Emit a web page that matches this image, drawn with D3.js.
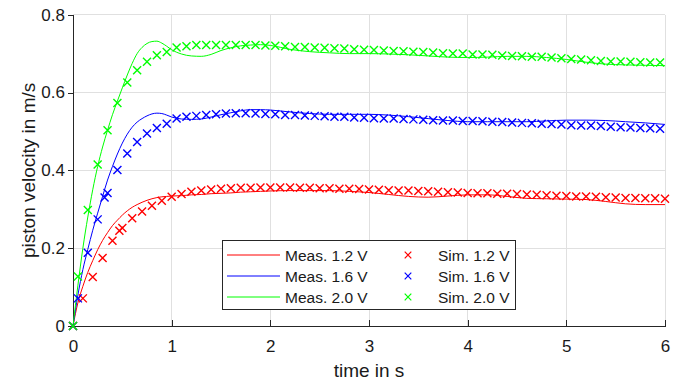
<!DOCTYPE html>
<html>
<head>
<meta charset="utf-8">
<script src="https://cdn.jsdelivr.net/npm/d3@7"></script>
<style>
  body { margin: 0; background: #fff; }
  svg { font-family: "Liberation Sans", Arial, sans-serif; }
</style>
</head>
<body>
<div class="displayArea"></div>
<script>
const width = 692, height = 382;

// measured curves (lines), common time grid
var measTime = [0, 0.05, 0.1, 0.15, 0.2, 0.25, 0.3, 0.35, 0.4, 0.45, 0.5, 0.55, 0.6, 0.65, 0.7, 0.75, 0.8, 0.85, 0.9, 0.95,
    1.0, 1.1, 1.2, 1.3, 1.4, 1.5, 1.6, 1.7, 1.8, 1.9, 2.0, 2.2, 2.4, 2.6, 2.8, 3.0, 3.2, 3.4, 3.6, 3.8,
    4.0, 4.2, 4.4, 4.6, 4.8, 5.0, 5.2, 5.4, 5.6, 5.8, 6.0];
var meas12 = [0, 0.06, 0.102, 0.138, 0.168, 0.196, 0.22, 0.24, 0.258, 0.272, 0.285, 0.296, 0.305, 0.312, 0.318, 0.323, 0.327, 0.33, 0.332, 0.333,
    0.334, 0.335, 0.337, 0.338, 0.34, 0.341, 0.342, 0.344, 0.345, 0.346, 0.347, 0.348, 0.348, 0.348, 0.346, 0.343, 0.338, 0.333, 0.331, 0.334,
    0.337, 0.337, 0.333, 0.328, 0.327, 0.326, 0.325, 0.32, 0.314, 0.312, 0.312];
var meas16 = [0, 0.08, 0.145, 0.197, 0.246, 0.29, 0.333, 0.375, 0.41, 0.442, 0.47, 0.493, 0.511, 0.524, 0.533, 0.54, 0.545, 0.547, 0.546, 0.542,
    0.537, 0.532, 0.531, 0.532, 0.537, 0.543, 0.548, 0.553, 0.556, 0.556, 0.555, 0.55, 0.546, 0.544, 0.544, 0.544, 0.542, 0.538, 0.533, 0.528,
    0.525, 0.525, 0.525, 0.525, 0.527, 0.529, 0.529, 0.528, 0.525, 0.522, 0.518];
var meas20 = [0, 0.105, 0.2, 0.28, 0.35, 0.41, 0.46, 0.503, 0.543, 0.578, 0.612, 0.645, 0.675, 0.7, 0.716, 0.726, 0.731, 0.732, 0.727, 0.719,
    0.71, 0.699, 0.694, 0.693, 0.698, 0.708, 0.715, 0.72, 0.722, 0.723, 0.721, 0.711, 0.705, 0.702, 0.7, 0.7, 0.699, 0.697, 0.694, 0.691,
    0.69, 0.691, 0.693, 0.693, 0.69, 0.685, 0.678, 0.673, 0.671, 0.67, 0.669];

// simulated points (markers)
var simTime12 = [0, 0.1, 0.2, 0.3, 0.4, 0.47, 0.5, 0.6, 0.7, 0.8, 0.9, 1.0, 1.1, 1.2, 1.3, 1.4, 1.5, 1.6, 1.7, 1.8, 1.9,
    2.0, 2.1, 2.2, 2.3, 2.4, 2.5, 2.6, 2.7, 2.8, 2.9, 3.0, 3.1, 3.2, 3.3, 3.4, 3.5, 3.6, 3.7, 3.8, 3.9,
    4.0, 4.1, 4.2, 4.3, 4.4, 4.5, 4.6, 4.7, 4.8, 4.9, 5.0, 5.1, 5.2, 5.3, 5.4, 5.5, 5.6, 5.7, 5.8, 5.9, 6.0];
var sim12 = [0, 0.071, 0.126, 0.175, 0.219, 0.245, 0.252, 0.277, 0.294, 0.309, 0.322, 0.332, 0.339, 0.345, 0.348, 0.351, 0.353, 0.354, 0.355, 0.355, 0.356,
    0.356, 0.356, 0.356, 0.355, 0.355, 0.354, 0.354, 0.353, 0.353, 0.352, 0.351, 0.35, 0.349, 0.348, 0.348, 0.347, 0.346, 0.345, 0.344, 0.343,
    0.342, 0.341, 0.341, 0.34, 0.34, 0.339, 0.338, 0.337, 0.336, 0.335, 0.334, 0.333, 0.333, 0.332, 0.331, 0.33, 0.329, 0.329, 0.328, 0.328, 0.327];

var simTime16 = [0, 0.05, 0.15, 0.25, 0.32, 0.35, 0.45, 0.55, 0.65, 0.75, 0.85, 0.95,
    1.05, 1.15, 1.25, 1.35, 1.45, 1.55, 1.65, 1.75, 1.85, 1.95, 2.05, 2.15, 2.25, 2.35, 2.45, 2.55, 2.65, 2.75, 2.85, 2.95,
    3.05, 3.15, 3.25, 3.35, 3.45, 3.55, 3.65, 3.75, 3.85, 3.95, 4.05, 4.15, 4.25, 4.35, 4.45, 4.55, 4.65, 4.75, 4.85, 4.95,
    5.05, 5.15, 5.25, 5.35, 5.45, 5.55, 5.65, 5.75, 5.85, 5.95];
var sim16 = [0, 0.071, 0.188, 0.274, 0.33, 0.342, 0.401, 0.443, 0.473, 0.495, 0.509, 0.52,
    0.533, 0.538, 0.54, 0.542, 0.544, 0.546, 0.547, 0.547, 0.546, 0.545, 0.544, 0.542, 0.542, 0.541, 0.54, 0.539, 0.538, 0.538, 0.536, 0.535,
    0.534, 0.533, 0.533, 0.532, 0.531, 0.53, 0.529, 0.528, 0.528, 0.527, 0.527, 0.526, 0.525, 0.524, 0.523, 0.522, 0.521, 0.52, 0.519, 0.518,
    0.516, 0.515, 0.515, 0.514, 0.512, 0.511, 0.51, 0.509, 0.508, 0.507];

var simTime20 = [0, 0.05, 0.15, 0.25, 0.35, 0.45, 0.55, 0.65, 0.75, 0.85, 0.95,
    1.05, 1.15, 1.25, 1.35, 1.45, 1.55, 1.65, 1.75, 1.85, 1.95, 2.05, 2.15, 2.25, 2.35, 2.45, 2.55, 2.65, 2.75, 2.85, 2.95,
    3.05, 3.15, 3.25, 3.35, 3.45, 3.55, 3.65, 3.75, 3.85, 3.95, 4.05, 4.15, 4.25, 4.35, 4.45, 4.55, 4.65, 4.75, 4.85, 4.95,
    5.05, 5.15, 5.25, 5.35, 5.45, 5.55, 5.65, 5.75, 5.85, 5.95];
var sim20 = [0, 0.127, 0.298, 0.415, 0.503, 0.573, 0.626, 0.657, 0.679, 0.696, 0.704,
    0.716, 0.719, 0.722, 0.722, 0.722, 0.722, 0.722, 0.722, 0.722, 0.721, 0.72, 0.719, 0.717, 0.717, 0.716, 0.715, 0.714, 0.713, 0.711, 0.71,
    0.709, 0.708, 0.707, 0.706, 0.705, 0.704, 0.703, 0.701, 0.7, 0.7, 0.698, 0.698, 0.697, 0.695, 0.694, 0.693, 0.692, 0.692, 0.69, 0.688,
    0.686, 0.685, 0.683, 0.681, 0.68, 0.68, 0.679, 0.678, 0.677, 0.677];

var xTicks = [0, 1, 2, 3, 4, 5, 6];
var yTicks = [0, 0.2, 0.4, 0.6, 0.8];

var measLabels = ["Meas. 1.2 V", "Meas. 1.6 V", "Meas. 2.0 V"];
var simLabels = ["Sim. 1.2 V", "Sim. 1.6 V", "Sim. 2.0 V"];
var colors = ["#ff0000", "#0000ff", "#00ff00"];

var measSeries = [meas12, meas16, meas20];
var simSeries = [[simTime12, sim12], [simTime16, sim16], [simTime20, sim20]];

var xScale = d3.scaleLinear().domain([0, 6]).range([73, 665]);
var yScale = d3.scaleLinear().domain([0, 0.8]).range([326, 14.7]);

var svg = d3.select(".displayArea")
    .append("svg")
    .attr("width", width)
    .attr("height", height);

// grid
svg.append("g").selectAll("line")
    .data(xTicks.slice(1))
    .enter().append("line")
    .attr("x1", d => xScale(d)).attr("x2", d => xScale(d))
    .attr("y1", yScale(0)).attr("y2", yScale(0.8))
    .attr("stroke", "#e0e0e0").attr("shape-rendering", "crispEdges");
svg.append("g").selectAll("line")
    .data(yTicks.slice(1))
    .enter().append("line")
    .attr("x1", xScale(0)).attr("x2", xScale(6))
    .attr("y1", d => yScale(d)).attr("y2", d => yScale(d))
    .attr("stroke", "#e0e0e0").attr("shape-rendering", "crispEdges");

// axes
var xAxis = d3.axisBottom(xScale).tickValues(xTicks).tickFormat(d3.format("d"))
    .tickSizeInner(-6).tickSizeOuter(0).tickPadding(14);
var yAxis = d3.axisLeft(yScale).tickValues(yTicks).tickFormat(d => d === 0 ? "0" : d3.format(".1f")(d))
    .tickSizeInner(5).tickSizeOuter(0).tickPadding(3);

var gx = svg.append("g").attr("transform", `translate(0,${yScale(0)})`).call(xAxis);
var gy = svg.append("g").attr("transform", `translate(${xScale(0)},0)`).call(yAxis);
[gx, gy].forEach(function (g) {
    g.selectAll("path, line").attr("stroke", "#262626").attr("shape-rendering", "crispEdges");
    g.selectAll("text").attr("fill", "#1a1a1a").style("font-size", "17px")
        .style("font-family", "'Liberation Sans', Arial, sans-serif");
});

svg.append("text")
    .attr("x", (xScale(0) + xScale(6)) / 2).attr("y", 377)
    .attr("text-anchor", "middle").style("font-size", "19px").attr("fill", "#1a1a1a")
    .text("time in s");
svg.append("text")
    .attr("transform", `translate(35,${(yScale(0) + yScale(0.8)) / 2}) rotate(-90)`)
    .attr("text-anchor", "middle").style("font-size", "19px").attr("fill", "#1a1a1a")
    .text("piston velocity in m/s");

// measured lines
var line = d3.line()
    .x((d, i) => xScale(measTime[i]))
    .y(d => yScale(d))
    .curve(d3.curveMonotoneX);

measSeries.forEach(function (s, k) {
    svg.append("path").datum(s)
        .attr("d", line)
        .attr("fill", "none")
        .attr("stroke", colors[k])
        .attr("stroke-width", 1);
});

// x-marker path
function cross(r) {
    return `M${-r},${-r}L${r},${r}M${-r},${r}L${r},${-r}`;
}

simSeries.forEach(function (s, k) {
    svg.append("g").selectAll("path")
        .data(s[1])
        .enter().append("path")
        .attr("transform", (d, i) => `translate(${xScale(s[0][i])},${yScale(d)})`)
        .attr("d", cross(4))
        .attr("fill", "none")
        .attr("stroke", colors[k])
        .attr("stroke-width", 1.4);
});

// legend
var leg = svg.append("g");
leg.append("rect")
    .attr("x", 222.5).attr("y", 240.5).attr("width", 293).attr("height", 69)
    .attr("fill", "#fff").attr("stroke", "#262626");
var rows = [255, 276, 297];
colors.forEach(function (c, k) {
    leg.append("line").attr("x1", 227).attr("x2", 280).attr("y1", rows[k]).attr("y2", rows[k])
        .attr("stroke", c);
    leg.append("text").attr("x", 285).attr("y", rows[k]).attr("dy", "0.36em")
        .style("font-size", "15.5px").attr("fill", "#1a1a1a").text(measLabels[k]);
    leg.append("path").attr("transform", `translate(408,${rows[k]})`).attr("d", cross(3.3))
        .attr("stroke", c).attr("stroke-width", 1.2).attr("fill", "none");
    leg.append("text").attr("x", 438).attr("y", rows[k]).attr("dy", "0.36em")
        .style("font-size", "15.5px").attr("fill", "#1a1a1a").text(simLabels[k]);
});
</script>
</body>
</html>
